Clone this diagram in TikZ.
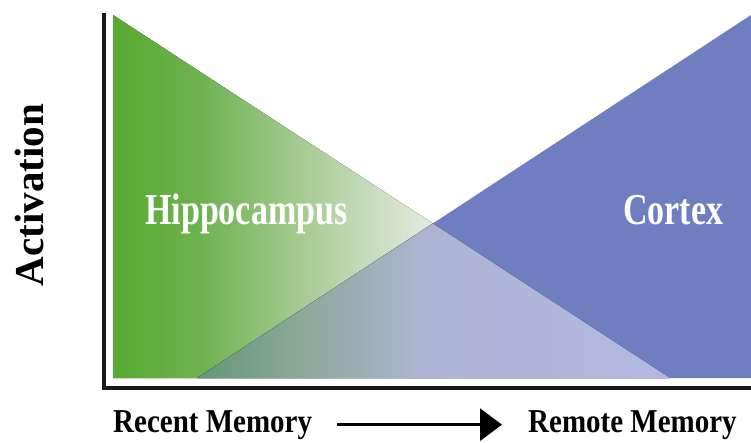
\documentclass[tikz,border=0pt]{standalone}
\usepackage{fontspec}
\usepackage{graphicx}
\setmainfont{Liberation Serif}
\usetikzlibrary{arrows.meta}

\definecolor{ctxblue}{RGB}{111,126,192}
\pgfdeclarehorizontalshading{hipshade}{100bp}{
  rgb(0bp)=(0.337,0.667,0.188); rgb(25bp)=(0.337,0.667,0.188);
  rgb(32.8bp)=(0.431,0.698,0.314); rgb(41.8bp)=(0.647,0.796,0.569);
  rgb(49bp)=(0.804,0.871,0.765); rgb(53.9bp)=(0.894,0.925,0.871);
  rgb(75bp)=(1,1,1); rgb(100bp)=(1,1,1)}
\pgfdeclarehorizontalshading{mixshade}{100bp}{
  rgb(0bp)=(0.392,0.596,0.463); rgb(25bp)=(0.392,0.596,0.463);
  rgb(35.9bp)=(0.549,0.659,0.596); rgb(48.6bp)=(0.675,0.706,0.824);
  rgb(75bp)=(0.706,0.722,0.886); rgb(100bp)=(0.706,0.722,0.886)}

\tikzset{
  axisline/.style={line width=4.5pt, black!90},
  axislabel/.style={inner sep=0pt, font=\fontsize{29}{29}\selectfont\bfseries},
  regionlabel/.style={inner sep=0pt, text=white, font=\fontsize{34}{34}\selectfont\bfseries},
  timearrow/.style={line width=3pt, -{Triangle[length=22pt,width=32pt]}}
}

\begin{document}
\begin{tikzpicture}[x=1pt, y=-1pt]
  \useasboundingbox (0,0) rectangle (751,443);
  \coordinate (gtop) at (113,15);
  \coordinate (gcorner) at (113,378);
  \coordinate (gend) at (670,378);
  \coordinate (bstart) at (197,378);
  \coordinate (btop) at (751,15);
  \coordinate (bcorner) at (751,378);
  \coordinate (cross) at (intersection of gtop--gend and bstart--btop);
  \coordinate (ytop) at (104,13);
  \coordinate (origin) at (104,388);
  \coordinate (xend) at (751,388);

  \fill[shading=hipshade] (gtop) -- (gend) -- (gcorner) -- cycle;
  \fill[ctxblue] (btop) -- (bcorner) -- (bstart) -- cycle;
  \fill[shading=mixshade] (bstart) -- (cross) -- (gend) -- cycle;

  \draw[axisline] (ytop) -- (origin) -- (xend);

  \node[regionlabel, anchor=base west] (hippo) at (145,225) {\scalebox{1}[1.3]{Hippocampus}};
  \node[regionlabel, anchor=base west] (cortex) at (623,225) {\scalebox{1}[1.3]{Cortex}};
  \node[axislabel, font=\fontsize{41}{41}\selectfont\bfseries, rotate=90, anchor=base] (activ) at (43,195) {Activation};
  \node[axislabel, anchor=base west] (recent) at (113,432) {\scalebox{1}[1.15]{Recent Memory}};
  \node[axislabel, anchor=base west] (remote) at (528,432) {\scalebox{1}[1.15]{Remote Memory}};
  \draw[timearrow, shorten <=25pt, shorten >=26pt] (recent.east) -- (remote.west);
\end{tikzpicture}
\end{document}
